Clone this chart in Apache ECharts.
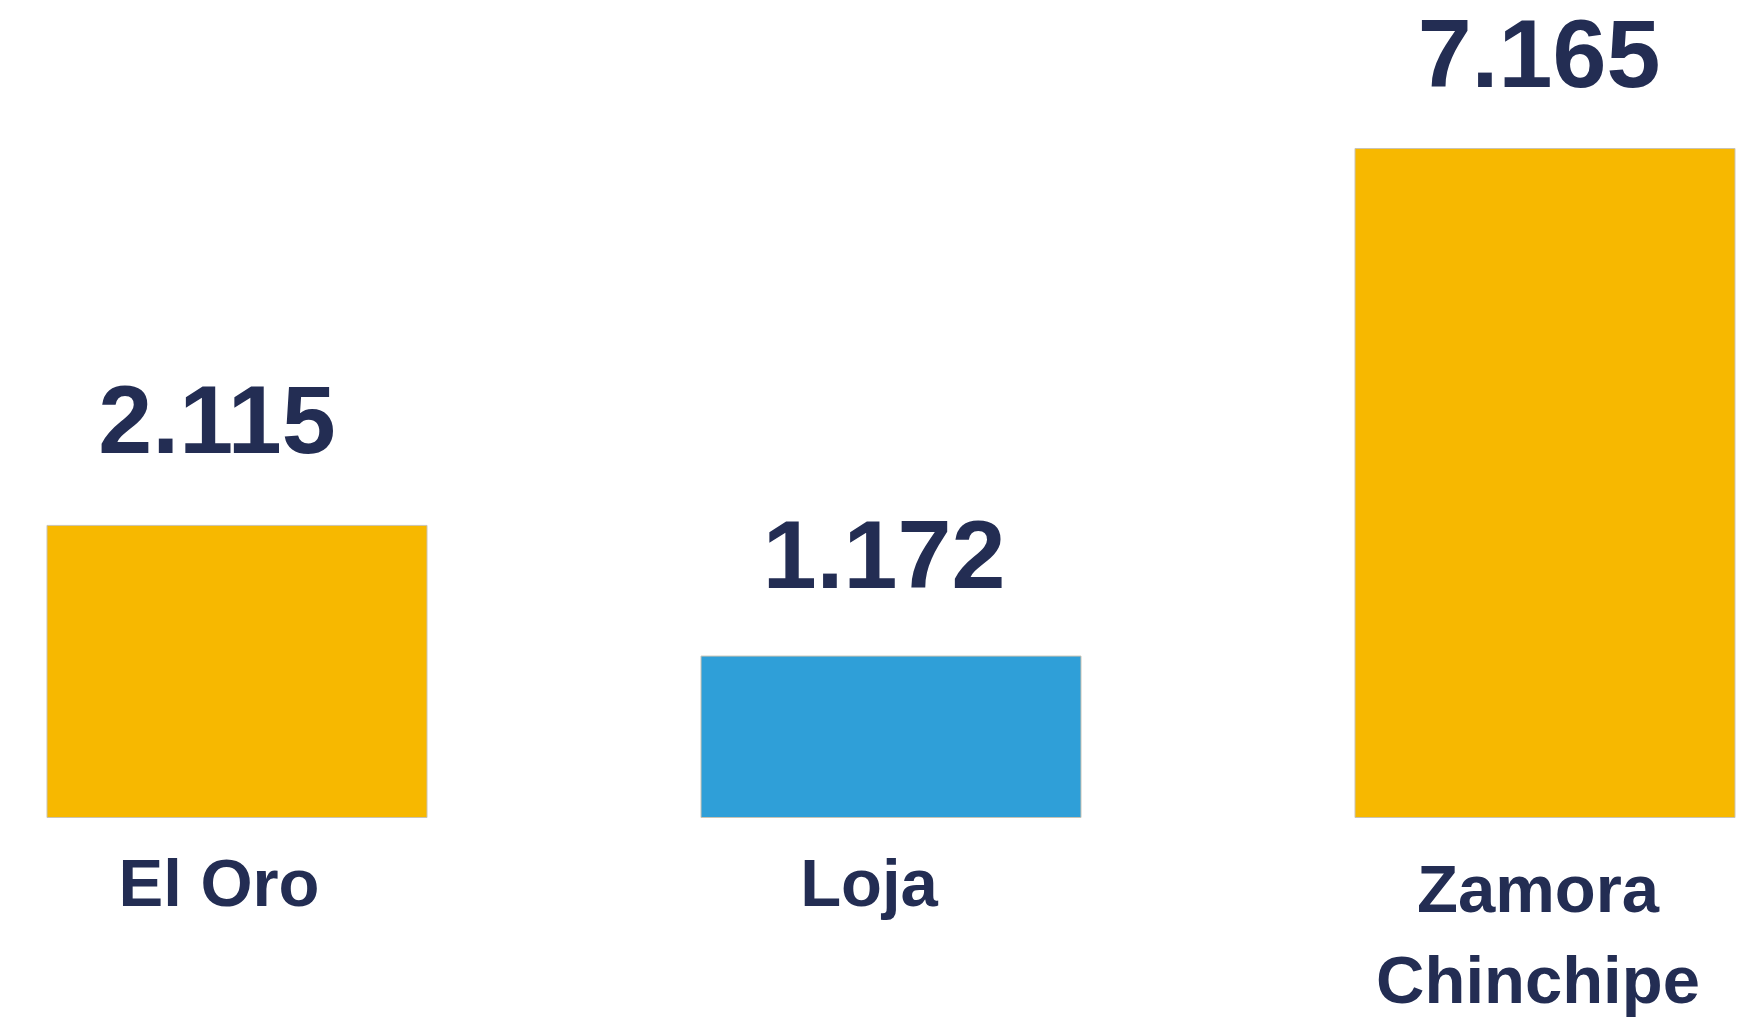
<!DOCTYPE html>
<html>
<head>
<meta charset="utf-8">
<title>Provincias</title>
<script src="https://cdn.jsdelivr.net/npm/echarts@6/dist/echarts.min.js"></script>
<style>
  html, body { margin: 0; padding: 0; background: #fff; }
  #chart { width: 1746px; height: 1017px; }
</style>
</head>
<body>
<div id="chart"></div>
<script>
// data
var categories = ["El Oro", "Loja", "Zamora\nChinchipe"];
var values = [2.115, 1.172, 7.165];
var barColors = ["#f7b800", "#2f9fd8", "#f7b800"];
// small per-bar nudges of the value labels (the source is not perfectly centred)
var labelShift = [-20, -7, -6];
var labelGap = [50, 46, 39];

var navy = "#232d53";
var font = "'Liberation Sans', Arial, sans-serif";

var chart = echarts.init(document.getElementById("chart"));

var seriesData = values.map(function (v, i) {
  return {
    value: v,
    itemStyle: { color: barColors[i] },
    label: { offset: [labelShift[i], 0], distance: labelGap[i] }
  };
});

chart.setOption({
  backgroundColor: "#fff",
  animation: false,
  grid: {
    left: 237, right: 201, top: 148, bottom: 199,
    containLabel: false,
    outerBoundsMode: "none"
  },
  xAxis: {
    type: "category",
    data: [
      { value: categories[0], textStyle: { padding: [0, 36, 0, 0] } },
      { value: categories[1], textStyle: { padding: [0, 44, 0, 0] } },
      { value: categories[2], textStyle: { padding: [6, 14, 0, 0] } }
    ],
    boundaryGap: false,
    axisLine: { show: false },
    axisTick: { show: false },
    splitLine: { show: false },
    axisLabel: {
      margin: 24,
      color: navy,
      fontFamily: font,
      fontWeight: "bold",
      fontSize: 67,
      lineHeight: 91,
      interval: 0
    }
  },
  yAxis: {
    type: "value",
    show: false,
    min: 0,
    max: 7.165,
    // the tall bar is drawn on a compressed scale in the source
    breaks: [{ start: 3, end: 5.33, gap: 0 }],
    breakArea: { show: false },
    splitLine: { show: false }
  },
  series: [
    {
      type: "bar",
      data: seriesData,
      barWidth: 381,
      clip: false,
      itemStyle: { borderColor: "#c9c3b4", borderWidth: 1 },
      label: {
        show: true,
        position: "top",
        color: navy,
        fontFamily: font,
        fontWeight: "bold",
        fontSize: 97,
        formatter: function (p) {
          return p.value.toFixed(3);
        }
      }
    }
  ]
});
</script>
</body>
</html>
